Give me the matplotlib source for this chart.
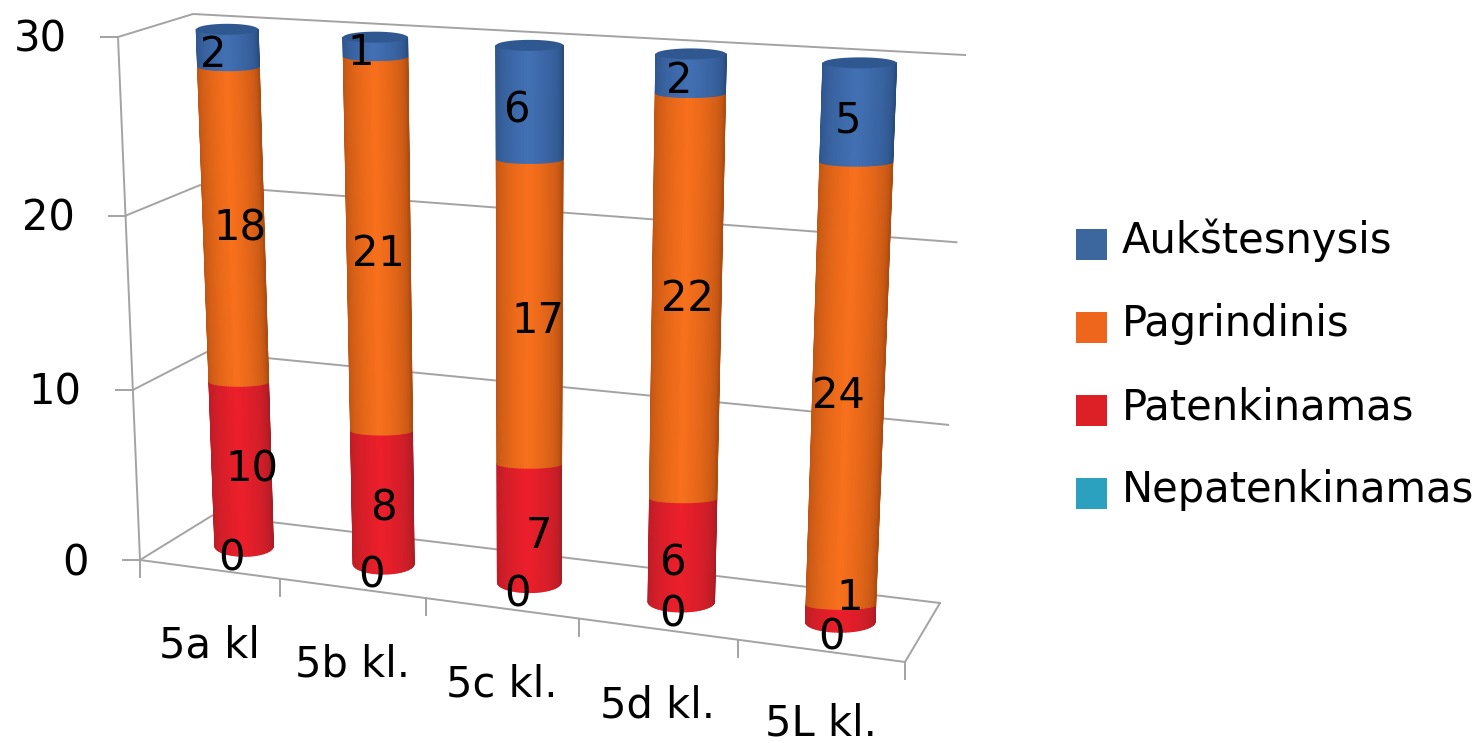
import numpy as np
import matplotlib
matplotlib.use("Agg")
import matplotlib.pyplot as plt
from matplotlib.collections import PolyCollection
from matplotlib.colors import to_rgb
from matplotlib.patches import Rectangle

categories = ["5a kl", "5b kl.", "5c kl.", "5d kl.", "5L kl."]
nepatenkinamas = [0, 0, 0, 0, 0]
patenkinamas = [10, 8, 7, 6, 1]
pagrindinis = [18, 21, 17, 22, 24]
aukstesnysis = [2, 1, 6, 2, 5]
series_names = ["Nepatenkinamas", "Patenkinamas", "Pagrindinis", "Aukštesnysis"]
y_ticks = [0, 10, 20, 30]
y_max = 30

# series colours: edge of cylinder, middle of cylinder, legend swatch
edge_colors = ["#1f7f99", "#a81c24", "#a94a10", "#274a7c"]
mid_colors = ["#2ba1bf", "#ec1f2b", "#f8701c", "#4270b4"]
swatch_colors = ["#2ba1bf", "#dd1f26", "#ee661c", "#3c679e"]

# label nudges in pixels, one per column of a stack (bottom to top)
label_dx = [[-13, 11, 6, -15], [-12, 1, 0, -15], [-12, 10, 8, -13], [-9, -10, 1, -12], [-9, 9, -10, -10]]
label_dy = [[9, 4, 2, 5], [9, 10, 7, 4], [9, 11, 8, 7], [10, 12, 0, 5], [12, -18, 8, 6]]

# corners of the 3d box on the canvas
front_bottom = np.array([[140, 560], [905, 662]], dtype=float)
back_bottom = np.array([[213, 515], [940, 603]], dtype=float)
front_top = np.array([[118, 37], [929, 80]], dtype=float)
back_top = np.array([[193, 14], [965, 55]], dtype=float)
RADIUS = 0.0425
WARP_S = 1.115
WARP_V = 1.038
WARP_BAR = 1.07


def warp(t, k):
    return t / (t + k * (1 - t))


def proj(s, w, v, k=WARP_V):
    # s along the categories 0..1, w depth 0..1, v is the value
    p = warp(s, WARP_S)
    q = warp(v / y_max, k)
    fb = front_bottom[0] + p * (front_bottom[1] - front_bottom[0])
    bb = back_bottom[0] + p * (back_bottom[1] - back_bottom[0])
    ft = front_top[0] + p * (front_top[1] - front_top[0])
    bt = back_top[0] + p * (back_top[1] - back_top[0])
    bottom = fb + w * (bb - fb)
    top = ft + w * (bt - ft)
    return bottom + q * (top - bottom)


def shade(i, a):
    # dark at both sides, bright over most of the middle
    f = np.clip(1 - abs(a + 0.03) / 1.03, 0, 1) ** 0.42
    return tuple(np.array(to_rgb(edge_colors[i])) * (1 - f) + np.array(to_rgb(mid_colors[i])) * f)


def half_width(s, v):
    return (proj(s + RADIUS, 0.5, v, WARP_BAR)[0] - proj(s - RADIUS, 0.5, v, WARP_BAR)[0]) / 2


def arc(s, v, a, minor):
    c = proj(s, 0.5, v, WARP_BAR)
    return c + np.array([a * half_width(s, v), minor * np.sqrt(1 - a ** 2)])


fig = plt.figure(figsize=(14.78, 7.43), dpi=100)
ax = fig.add_axes([0, 0, 1, 1])
ax.set_xlim(0, 1478)
ax.set_ylim(743, 0)
ax.axis("off")

grey = "#a3a3a3"
FS = 30

# walls and floor
for v in y_ticks:
    pts = [proj(0, 0, v), proj(0, 1, v), proj(1, 1, v)]
    ax.plot([p[0] for p in pts], [p[1] for p in pts], color=grey, lw=1.4, zorder=1)
    x, y = proj(0, 0, v)
    ax.plot([x - 17, x], [y, y], color=grey, lw=1.4, zorder=1)
    ax.text(x - 51, y + 15, str(v), ha="right", va="baseline", fontsize=FS, color="black")
p0, p1 = proj(0, 0, 0), proj(0, 0, y_max)
ax.plot([p0[0], p1[0]], [p0[1], p1[1]], color=grey, lw=1.4, zorder=1)
pts = [proj(0, 0, 0), proj(1, 0, 0), proj(1, 1, 0)]
ax.plot([p[0] for p in pts], [p[1] for p in pts], color=grey, lw=1.4, zorder=1)
for k in range(len(categories) + 1):
    x, y = proj(k / len(categories), 0, 0)
    ax.plot([x, x], [y, y + 17], color=grey, lw=1.4, zorder=1)

# cylinders
stacks = [nepatenkinamas, patenkinamas, pagrindinis, aukstesnysis]
across = np.cos(np.linspace(np.pi, 0, 41))
for c in range(len(categories)):
    s = (c + 0.5) / len(categories)
    x, y = proj(s, 0, 0)
    ax.text(x, min(y + 88, 736), categories[c], ha="center", va="baseline", fontsize=FS, color="black", zorder=6)
    base = 0
    for i, values in enumerate(stacks):
        v0, v1 = base, base + values[c]
        base = v1
        m0 = 10 if v0 == 0 else 4.5
        m1 = 4.5
        if values[c] > 0:
            polys, cols = [], []
            for a0, a1 in zip(across[:-1], across[1:]):
                polys.append([arc(s, v0, a0, m0), arc(s, v0, a1, m0), arc(s, v1, a1, m1), arc(s, v1, a0, m1)])
                cols.append(shade(i, (a0 + a1) / 2))
            ax.add_collection(PolyCollection(polys, facecolors=cols, edgecolors=cols, linewidths=1.0, zorder=3 + i * 0.1))
        lx, ly = proj(s, 0.5, (v0 + v1) / 2)
        ax.text(lx + label_dx[c][i], ly + label_dy[c][i] + 15, str(values[c]), ha="center", va="baseline",
                fontsize=FS, color="black", zorder=6)
    # top cap of the stack
    t = np.linspace(0, 2 * np.pi, 80)
    top = proj(s, 0.5, base, WARP_BAR)
    hw = half_width(s, base)
    ax.fill(top[0] + hw * np.cos(t), top[1] + 5.5 * np.sin(t), color="#2f5790", lw=0, zorder=4)

# legend
legend_y = [229, 312, 395, 478]
for name, col, y in zip(series_names[::-1], swatch_colors[::-1], legend_y):
    ax.add_patch(Rectangle((1076, y), 31, 31, facecolor=col, edgecolor="none"))
    ax.text(1122, y + 24, name, ha="left", va="baseline", fontsize=FS, color="black")

fig.savefig("out.png", dpi=100)
